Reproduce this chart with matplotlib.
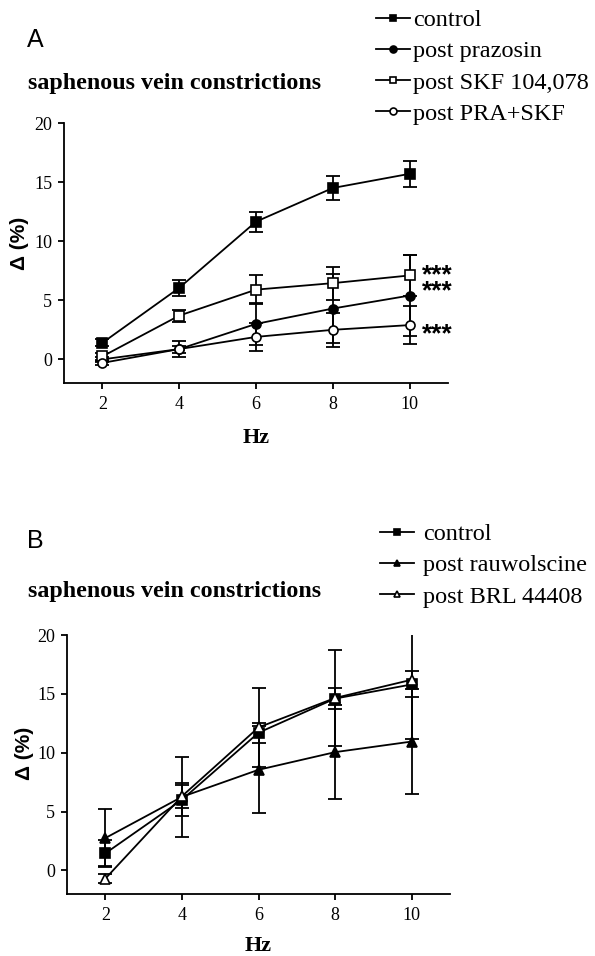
import matplotlib
matplotlib.use("Agg")
import matplotlib.pyplot as plt

# ---------------- data ----------------
hz = [2, 4, 6, 8, 10]
xticks = [2, 4, 6, 8, 10]
yticks = [0, 5, 10, 15, 20]

# Panel A
control_A = [1.4, 6.05, 11.65, 14.5, 15.7]
control_A_err = [0.3, 0.7, 0.85, 1.0, 1.1]
prazosin_A = [0.0, 0.87, 3.0, 4.3, 5.4]
prazosin_A_err = [0.2, 0.7, 1.8, 2.9, 3.4]
skf_A = [0.25, 3.7, 5.9, 6.45, 7.1]
skf_A_err = [0.3, 0.5, 1.2, 1.4, 1.75]
prask_A = [-0.3, 0.87, 1.9, 2.5, 2.9]
prask_A_err = [0.2, 0.3, 1.15, 1.45, 1.6]
labels_A = ["control", "post prazosin", "post SKF 104,078", "post PRA+SKF"]

# Panel B
control_B = [1.45, 6.0, 11.7, 14.6, 15.8]
control_B_err = [1.1, 1.4, 0.85, 0.9, 1.1]
rauw_B = [2.75, 6.25, 8.55, 10.05, 10.95]
rauw_B_err = [2.45, 3.4, 3.7, 4.0, 4.45]
brl_B = [-0.7, 6.3, 12.15, 14.65, 16.2]
brl_B_err = [0.4, 1.0, 3.35, 4.1, 5.0]
labels_B = ["control", "post rauwolscine", "post BRL 44408"]

title = "saphenous vein constrictions"

# ---------------- styling ----------------
SERIF = "Liberation Serif"
SANS = "Liberation Sans"
W, H = 595, 956
fig = plt.figure(figsize=(W / 100, H / 100), dpi=100)


def px_axes(l, t, r, b):
    return fig.add_axes([l / W, 1 - b / H, (r - l) / W, (b - t) / H])


def style_axes(ax):
    ax.set_xlim(1, 11)
    ax.set_ylim(-2, 20)
    ax.set_xticks(xticks)
    ax.set_yticks(yticks)
    for s in ["top", "right"]:
        ax.spines[s].set_visible(False)
    for s in ["left", "bottom"]:
        ax.spines[s].set_linewidth(1.3)
    ax.tick_params(direction="out", length=4.5, width=1.3, labelsize=13)
    ax.tick_params(axis="x", pad=5)
    ax.tick_params(axis="y", pad=4)
    for lab in ax.get_xticklabels() + ax.get_yticklabels():
        lab.set_family(SERIF)


def series(ax, y, e, marker, filled):
    ax.errorbar(hz, y, yerr=e, fmt="none", ecolor="black", elinewidth=1.3,
                capsize=5, capthick=1.3, zorder=2)
    ln, = ax.plot(hz, y, color="black", lw=1.3, marker=marker, markersize=6.5,
                  markerfacecolor="black" if filled else "white",
                  markeredgecolor="black", markeredgewidth=1.2, zorder=3)
    return ln


def add_legend(ax, handles, labels, x_px, y_px, textpad):
    leg = ax.legend(handles, labels, loc="upper left",
                    bbox_to_anchor=(x_px / W, 1 - y_px / H),
                    bbox_transform=fig.transFigure, frameon=False,
                    borderpad=0, borderaxespad=0, handlelength=1.4,
                    handletextpad=textpad, labelspacing=0.38,
                    prop={"family": SERIF, "size": 17.5})
    for h in leg.legend_handles:
        h.set_markersize(5)
    return leg


# ---------------- Panel A ----------------
axA = px_axes(64, 123, 448, 383)
style_axes(axA)
hA = [series(axA, control_A, control_A_err, "s", True),
      series(axA, prazosin_A, prazosin_A_err, "o", True),
      series(axA, skf_A, skf_A_err, "s", False),
      series(axA, prask_A, prask_A_err, "o", False)]
add_legend(axA, hA, labels_A, 376, 9, 0.12)
# significance marks (first two rows stacked in one text)
axA.text(10.33, 5.14, "***\n***", family=SANS, fontweight="bold", fontsize=19,
         ha="left", va="baseline", linespacing=0.6, clip_on=False)
axA.text(10.33, 1.54, "***", family=SANS, fontweight="bold", fontsize=19,
         ha="left", va="baseline", clip_on=False)
axA.set_xlabel("Hz", family=SERIF, fontweight="bold", fontsize=16, va="center")
axA.xaxis.set_label_coords(0.5, -0.21)
axA.set_ylabel("Δ (%)", family=SANS, fontweight="bold", fontsize=15, va="center")
axA.yaxis.set_label_coords(-0.115, 0.538)
fig.text(35 / W, 1 - 40 / H, "A", family=SANS, fontsize=18, ha="center", va="center")
fig.text(28 / W, 1 - 84 / H, title, family=SERIF, fontweight="bold",
         fontsize=17.3, ha="left", va="center")

# ---------------- Panel B ----------------
axB = px_axes(67, 635, 450, 894)
style_axes(axB)
hB = [series(axB, control_B, control_B_err, "s", True),
      series(axB, rauw_B, rauw_B_err, "^", True),
      series(axB, brl_B, brl_B_err, "^", False)]
add_legend(axB, hB, labels_B, 380, 523, 0.38)
axB.set_xlabel("Hz", family=SERIF, fontweight="bold", fontsize=16, va="center")
axB.xaxis.set_label_coords(0.5, -0.2)
axB.set_ylabel("Δ (%)", family=SANS, fontweight="bold", fontsize=15, va="center")
axB.yaxis.set_label_coords(-0.11, 0.544)
fig.text(35 / W, 1 - 541 / H, "B", family=SANS, fontsize=18, ha="center", va="center")
fig.text(28 / W, 1 - 591 / H, title, family=SERIF, fontweight="bold",
         fontsize=17.3, ha="left", va="center")

fig.savefig("out.png", dpi=100)
